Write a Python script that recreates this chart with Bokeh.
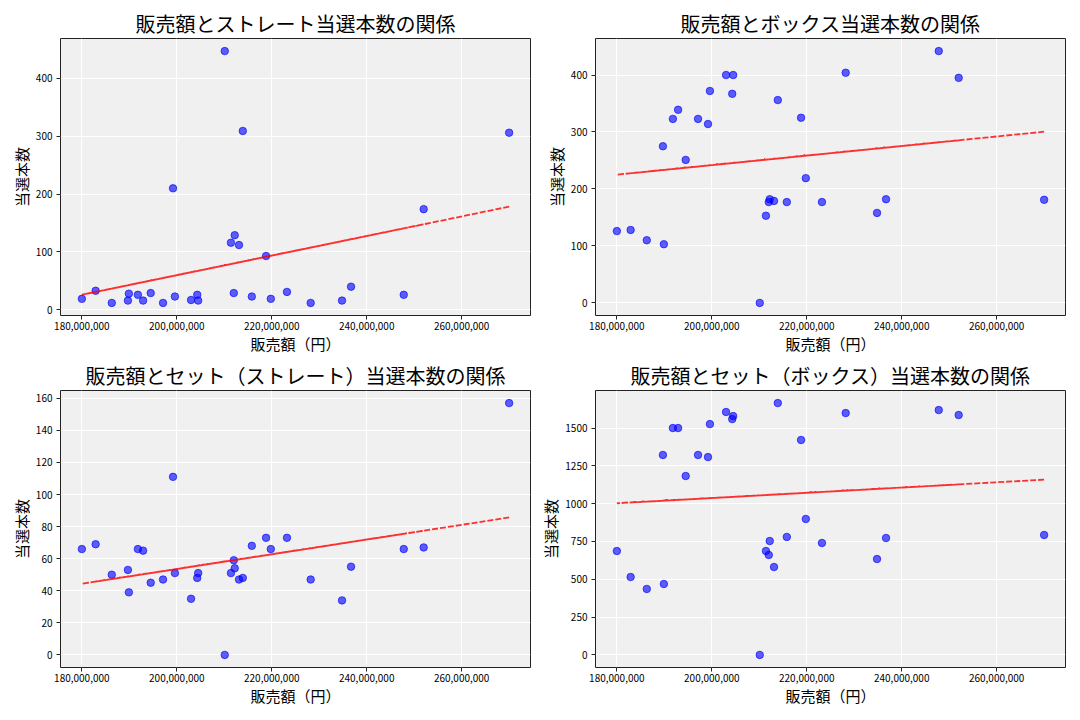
import numpy as np
from bokeh.plotting import figure
from bokeh.layouts import gridplot
from bokeh.models import Range1d, FixedTicker, NumeralTickFormatter
from bokeh.embed import file_html
from bokeh.resources import INLINE

# Sales (yen) per draw, in data order
sales = [270000000, 210100000, 189700000, 218800000, 197100000, 247800000,
         180000000, 212200000, 203000000, 234800000, 191800000, 213900000,
         182900000, 223200000, 199200000, 252000000, 204500000, 192900000,
         212000000, 219800000, 186300000, 236700000, 199600000, 213100000,
         189900000, 228200000, 204300000, 211400000, 194500000, 215800000]
straight = [306, 447, 16, 93, 12, 26, 19, 129, 17, 16, 26, 309, 33, 31, 210,
            174, 16, 16, 29, 19, 12, 40, 23, 112, 28, 12, 26, 116, 29, 23]
box = [181, 0, 275, 325, 323, 442, 126, 182, 400, 158, 323, 356, 128, 177, 314,
       395, 400, 339, 177, 219, 110, 182, 372, 179, 103, 404, 367, 153, 251, 177]
set_straight = [157, 0, 53, 73, 47, 66, 66, 54, 35, 34, 66, 48, 69, 73, 111,
                67, 51, 65, 59, 66, 50, 55, 51, 47, 39, 47, 48, 51, 45, 68]
set_box = [793, 0, 1322, 1421, 1322, 1619, 687, 753, 1606, 634, 1500, 1665, 515,
           740, 1308, 1586, 1579, 1500, 661, 899, 436, 773, 1526, 581, 469, 1599,
           1559, 687, 1183, 780]

titles = ["販売額とストレート当選本数の関係", "販売額とボックス当選本数の関係",
          "販売額とセット（ストレート）当選本数の関係", "販売額とセット（ボックス）当選本数の関係"]
x_ticks = [180000000, 200000000, 220000000, 240000000, 260000000]
y_ticks = [[0, 100, 200, 300, 400], [0, 100, 200, 300, 400],
           [0, 20, 40, 60, 80, 100, 120, 140, 160], [0, 250, 500, 750, 1000, 1250, 1500]]

FONT = "Noto Sans CJK JP"


def padded(vals):
    lo, hi = min(vals), max(vals)
    pad = 0.05 * (hi - lo)
    return Range1d(lo - pad, hi + pad)


def make(title, yvals, yt, left, right, top, bottom):
    p = figure(frame_width=470, frame_height=277,
               x_range=padded(sales), y_range=padded(yvals),
               output_backend="svg", toolbar_location=None,
               min_border_left=left, min_border_right=right,
               min_border_top=top, min_border_bottom=bottom,
               background_fill_color="#f0f0f0", border_fill_color="white",
               outline_line_color="#222222", outline_line_width=1)
    p.title.text = title
    p.title.align = "center"
    p.title.text_font = FONT
    p.title.text_font_size = "20px"
    p.title.text_font_style = "normal"
    p.title.text_color = "black"
    p.title.standoff = 2

    p.xaxis.ticker = FixedTicker(ticks=x_ticks)
    p.xaxis.formatter = NumeralTickFormatter(format="0,0")
    p.yaxis.ticker = FixedTicker(ticks=yt)
    p.xaxis.axis_label = "販売額（円）"
    p.yaxis.axis_label = "当選本数"
    for ax in (p.xaxis, p.yaxis):
        ax.axis_line_color = None
        ax.major_tick_out = 4
        ax.major_tick_in = 0
        ax.minor_tick_out = 0
        ax.minor_tick_in = 0
        ax.major_tick_line_color = "#222222"
        ax.major_label_text_font = FONT
        ax.major_label_text_font_size = "10px"
        ax.major_label_text_color = "black"
        ax.axis_label_text_font = FONT
        ax.axis_label_text_font_size = "15px"
        ax.axis_label_text_font_style = "normal"
        ax.axis_label_text_color = "black"
    p.yaxis.major_label_standoff = 4
    p.yaxis.axis_label_standoff = 1
    p.xaxis.major_label_standoff = 2
    p.xaxis.axis_label_standoff = 0
    p.grid.grid_line_color = "white"
    p.grid.grid_line_width = 1

    p.scatter(sales, yvals, size=7.5, color="blue", alpha=0.62)
    coef = np.polyfit(np.array(sales, dtype=float), np.array(yvals, dtype=float), 1)
    fit = np.polyval(coef, np.array(sales, dtype=float))
    p.line(sales, fit, line_color="red", line_alpha=0.8, line_width=1.8, line_dash="6 2")
    return p


p1 = make(titles[0], straight, y_ticks[0], 60, 7, 38, 38)
p2 = make(titles[1], box, y_ticks[1], 55, 12, 38, 38)
p3 = make(titles[2], set_straight, y_ticks[2], 60, 7, 34, 48)
p4 = make(titles[3], set_box, y_ticks[3], 55, 12, 34, 48)

grid = gridplot([[p1, p2], [p3, p4]], toolbar_location=None)
open("out.html", "w").write(file_html(grid, INLINE))
